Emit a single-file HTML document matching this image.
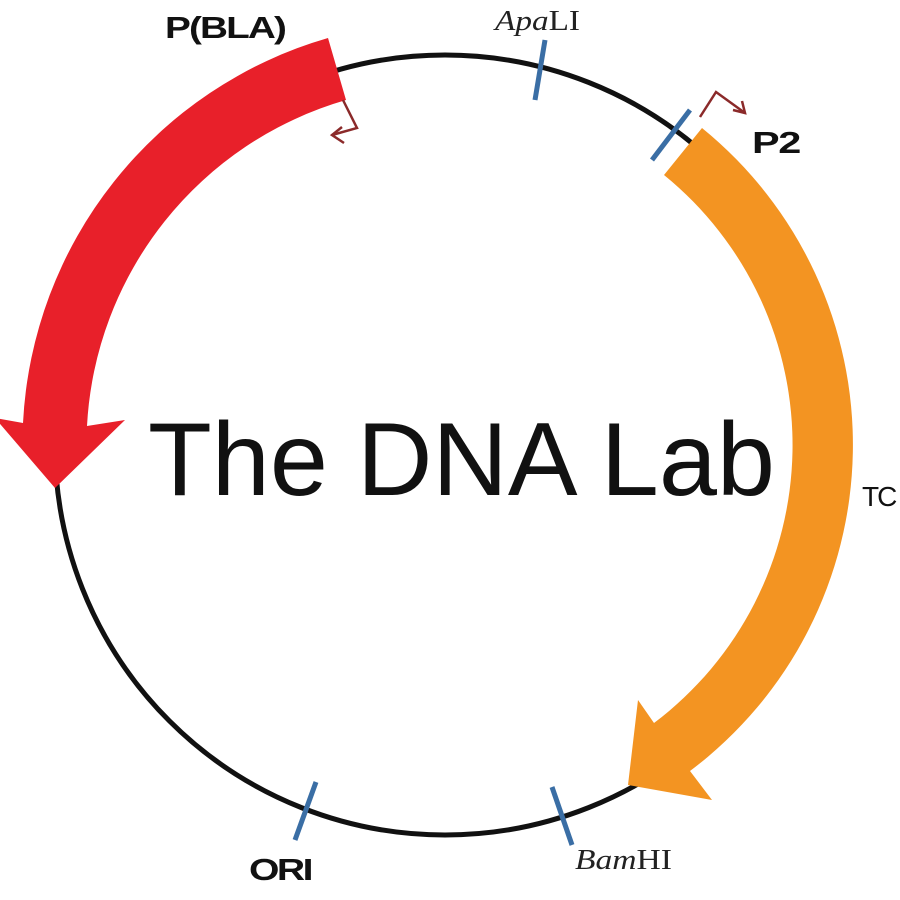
<!DOCTYPE html>
<html><head><meta charset="utf-8"><style>html,body{margin:0;padding:0;background:#fff;}svg{display:block}</style></head>
<body>
<svg width="900" height="900" viewBox="0 0 900 900" xmlns="http://www.w3.org/2000/svg">
<rect width="900" height="900" fill="#fff"/>
<circle cx="445" cy="445" r="390" fill="none" stroke="#111" stroke-width="5"/>
<path d="M328,38 A423,423 0 0 0 23,423 L-5,418 L55,488 L125,420 L87,426 A359,359 0 0 1 346,100 Z" fill="#e8202a"/>
<path d="M702,128 A408,408 0 0 1 690,771 L712,800 L628,785 L638,700 L654,723 A348,348 0 0 0 664,175 Z" fill="#f39422"/>
<g stroke="#3a6ea5" stroke-width="5" stroke-linecap="butt">
<line x1="545" y1="40" x2="535" y2="100"/>
<line x1="690" y1="110" x2="652" y2="160"/>
<line x1="316" y1="782" x2="295" y2="840"/>
<line x1="552" y1="787" x2="572" y2="845"/>
</g>
<g fill="none" stroke="#8b2a2a" stroke-width="2.5" stroke-linejoin="miter">
<polyline points="343,100 357,128 332,135"/>
<polyline points="342,127 332,135 344,143"/>
<polyline points="700,117 716,92 745,113"/>
<polyline points="733,110 745,113 742,101"/>
</g>
<g font-family="Liberation Sans, sans-serif" font-weight="bold" font-size="31" fill="#111">
<text x="165" y="38" letter-spacing="-1.5" textLength="120" lengthAdjust="spacingAndGlyphs">P(BLA)</text>
<text x="752" y="153" letter-spacing="-1" textLength="48" lengthAdjust="spacingAndGlyphs">P2</text>
<text x="249" y="880" letter-spacing="-2" textLength="62" lengthAdjust="spacingAndGlyphs">ORI</text>
</g>
<text x="862" y="506" font-family="Liberation Sans, sans-serif" font-size="28" fill="#111" letter-spacing="-2">TC</text>
<g font-family="Liberation Serif, serif" font-size="29" fill="#222">
<text x="495" y="30" textLength="85" lengthAdjust="spacingAndGlyphs"><tspan font-style="italic">Apa</tspan>LI</text>
<text x="575" y="869" textLength="97" lengthAdjust="spacingAndGlyphs"><tspan font-style="italic">Bam</tspan>HI</text>
</g>
<text x="148" y="495" font-family="Liberation Sans, sans-serif" font-size="104" fill="#111" textLength="627" lengthAdjust="spacingAndGlyphs">The DNA Lab</text>
</svg>
</body></html>
